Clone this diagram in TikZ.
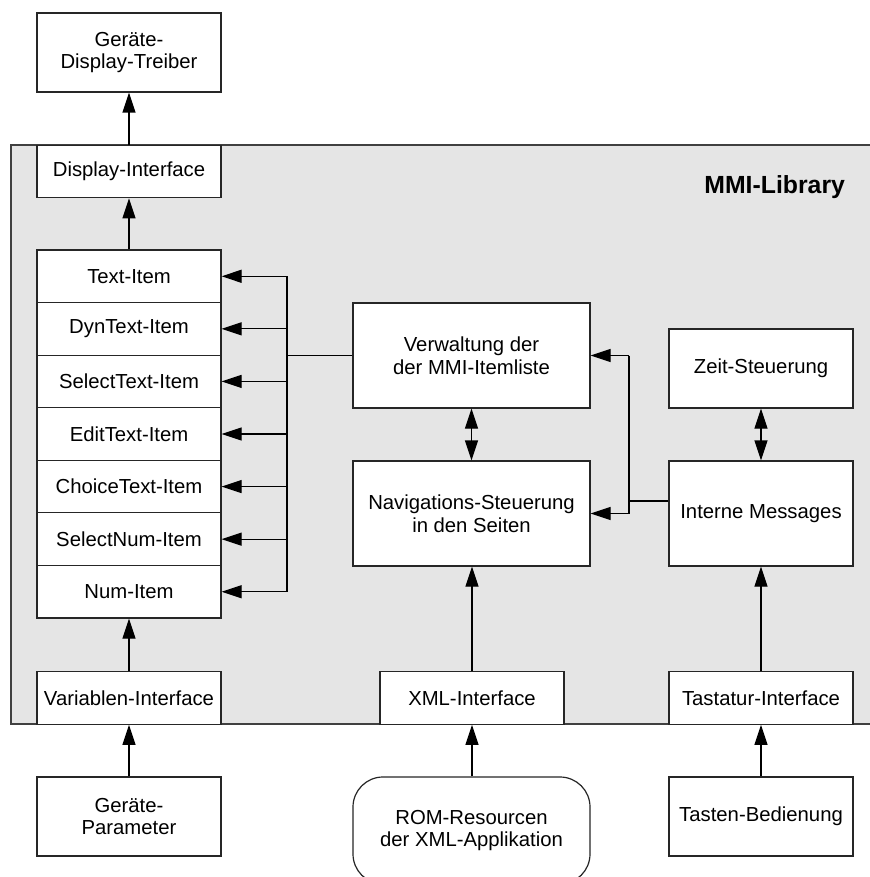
\documentclass[tikz,border=0pt]{standalone}
\usepackage{fontspec}
\setmainfont{Liberation Sans}
\usetikzlibrary{arrows.meta}
\definecolor{libgray}{RGB}{229,229,229}
\tikzset{
  box/.style={draw=black!85, fill=white, line width=0.6pt, inner sep=2pt, align=center,
    font=\fontsize{10.15}{11.4}\selectfont},
  tallbox/.style={box, minimum width=92pt, minimum height=39.5pt},
  flatbox/.style={box, minimum width=92pt, minimum height=26.3pt},
  bigbox/.style={box, minimum width=118.5pt, minimum height=52.5pt},
  arr/.style={-{Triangle[length=10pt,width=6.5pt]}, line width=0.6pt},
  arrboth/.style={{Triangle[length=10pt,width=6.5pt]}-{Triangle[length=10pt,width=6.5pt]}, line width=0.6pt},
}

\begin{document}
\begin{tikzpicture}[x=0.5pt,y=0.5pt,yscale=-1]
\useasboundingbox (0,0) rectangle (870,877);

% library frame
\draw[draw=black!75, fill=libgray, line width=0.6pt] (920,145) -- (11,145) -- (11,724) -- (920,724);
\node[anchor=base east, font=\fontsize{12.4}{14}\selectfont\bfseries] (libname) at (852,194) {MMI-Library};

% outside
\node[tallbox] (treiber) at (129,52.5) {Ger\"ate-\\Display-Treiber};
\node[tallbox] (param) at (129,816.5) {Ger\"ate-\\Parameter};
\node[bigbox, rounded corners=15pt, minimum height=53.5pt] (rom) at (471.5,830.5) {ROM-Resourcen\\der XML-Applikation};
\node[tallbox] (tasten) at (761,816.5) {Tasten-Bedienung};

% interfaces
\node[flatbox] (dispif) at (129,171.5) {Display-Interface};
\node[flatbox] (varif) at (129,698) {Variablen-Interface};
\node[flatbox] (xmlif) at (472,698) {XML-Interface};
\node[flatbox] (tastif) at (761,698) {Tastatur-Interface};

% item list
\foreach \i/\txt in {1/Text-Item,2/DynText-Item,3/SelectText-Item,4/EditText-Item,
                     5/ChoiceText-Item,6/SelectNum-Item,7/Num-Item}{
  \pgfmathsetmacro\yc{276.29+52.57*(\i-1)}
  \node[flatbox] (item\i) at (129,\yc) {\txt};
}

% core blocks
\node[bigbox] (verw) at (471.5,355.5) {Verwaltung der\\der MMI-Itemliste};
\node[bigbox] (navi) at (471.5,513.5) {Navigations-Steuerung\\in den Seiten};
\node[tallbox] (zeit) at (761,368.5) {Zeit-Steuerung};
\node[bigbox, minimum width=92pt] (intern) at (761,513.5) {Interne Messages};

% bus to the items
\coordinate (bus) at (287,355.5);
\draw[line width=0.6pt] (verw.west) -- (bus);
\draw[line width=0.6pt] (bus |- item1.east) -- (bus |- item7.east);
\foreach \i in {1,...,7}
  \draw[arr] (bus |- item\i.east) -- (item\i.east);

% messages to the core
\coordinate (rbus) at (629,501);
\draw[line width=0.6pt] (rbus -| intern.west) -- (rbus);
\draw[line width=0.6pt] (rbus |- verw.east) -- (rbus |- navi.east);
\draw[arr] (rbus |- verw.east) -- (verw.east);
\draw[arr] (rbus |- navi.east) -- (navi.east);

\draw[arrboth] (verw) -- (navi);
\draw[arrboth] (zeit) -- (intern);

% vertical flow
\draw[arr] (dispif.north) -- (treiber.south);
\draw[arr] (item1.north) -- (dispif.south);
\draw[arr] (varif.north) -- (item7.south);
\draw[arr] (param.north) -- (varif.south);
\draw[arr] (xmlif.north) -- (xmlif.north |- navi.south);
\draw[arr] (xmlif.south |- rom.north) -- (xmlif.south);
\draw[arr] (tastif.north) -- (intern.south);
\draw[arr] (tasten.north) -- (tastif.south);

\end{tikzpicture}
\end{document}
